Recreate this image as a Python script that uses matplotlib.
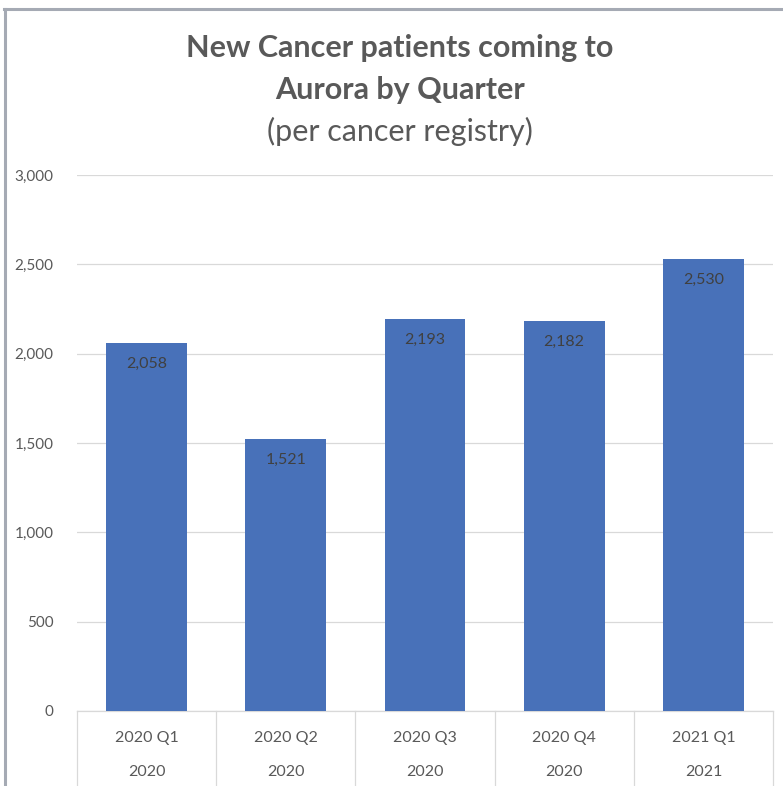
import matplotlib
matplotlib.use("Agg")
import matplotlib.pyplot as plt
from matplotlib.lines import Line2D
from matplotlib.ticker import FuncFormatter

quarters = ["2020 Q1", "2020 Q2", "2020 Q3", "2020 Q4", "2021 Q1"]
years = ["2020", "2020", "2020", "2020", "2021"]
patients = [2058, 1521, 2193, 2182, 2530]
yticks = [0, 500, 1000, 1500, 2000, 2500, 3000]

W, H = 783, 786
plt.rcParams['font.family'] = ['Lato', 'DejaVu Sans']
fig = plt.figure(figsize=(W / 100, H / 100), dpi=100)
fig.patch.set_facecolor("white")

left, right, top, bottom = 77, 773, 175, 711
ax = fig.add_axes([left / W, 1 - bottom / H, (right - left) / W, (bottom - top) / H])

x = list(range(len(quarters)))
bars = ax.bar(x, patients, width=0.58, color="#4871B9", zorder=3)
ax.set_xlim(-0.5, len(quarters) - 0.5)
ax.set_ylim(0, 3000)
ax.set_yticks(yticks)
ax.yaxis.set_major_formatter(FuncFormatter(lambda v, p: f"{int(v):,}"))
ax.tick_params(axis="y", length=0, pad=17, labelsize=11, labelcolor="#595959")
ax.set_xticks([])
ax.grid(axis="y", color="#D9D9D9", linewidth=0.9, zorder=0)
for s in ["top", "right", "left"]:
    ax.spines[s].set_visible(False)
ax.spines["bottom"].set_color("#D9D9D9")
ax.spines["bottom"].set_linewidth(0.9)

for b, v in zip(bars, patients):
    ax.annotate(f"{v:,}", (b.get_x() + b.get_width() / 2, v), xytext=(0, -21),
                textcoords="offset pixels",
                ha="center", va="center", fontsize=11.5, color="#404040", zorder=4)

# multi-level category axis
below = (H - bottom) / (bottom - top)
trans = ax.get_xaxis_transform()
for i in range(len(quarters) + 1):
    ax.add_line(Line2D([i - 0.5, i - 0.5], [0, -below], transform=trans,
                       color="#D9D9D9", linewidth=0.9, clip_on=False))
for i, (q, yr) in enumerate(zip(quarters, years)):
    ax.text(i, -(738 - bottom) / (bottom - top), q, transform=trans, ha="center",
            va="center", fontsize=11.5, color="#595959")
    ax.text(i, -(772 - bottom) / (bottom - top), yr, transform=trans, ha="center",
            va="center", fontsize=11.5, color="#595959")

# titles
fig.text(400 / W, 1 - 48 / H, "New Cancer patients coming to", ha="center", va="center",
         fontsize=22, fontweight="bold", color="#595959")
fig.text(400 / W, 1 - 90 / H, "Aurora by Quarter", ha="center", va="center",
         fontsize=22, fontweight="bold", color="#595959")
fig.text(400 / W, 1 - 131 / H, "(per cancer registry)", ha="center", va="center",
         fontsize=22, color="#595959")

# outer chart frame (partially visible)
fig.add_artist(Line2D([4 / W, 1], [1 - 9 / H, 1 - 9 / H], transform=fig.transFigure,
                      color="#A5AAB4", linewidth=2.2))
fig.add_artist(Line2D([5 / W, 5 / W], [0, 1 - 9 / H], transform=fig.transFigure,
                      color="#A5AAB4", linewidth=2.2))

fig.savefig("out.png", dpi=100, facecolor="white")
